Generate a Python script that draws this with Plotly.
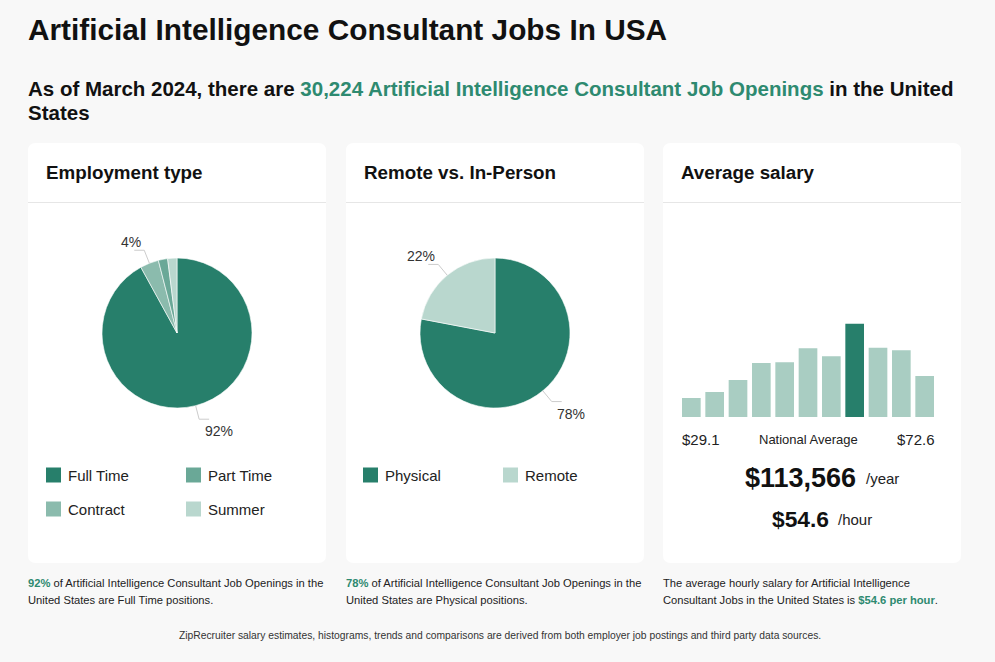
import math
import plotly.graph_objects as go

W, H = 995, 662
FONT = "Liberation Sans, Arial, sans-serif"
GREEN = "#277f6b"
GREEN_TXT = "#2e8a70"
TXT = "#222222"

# ---- data ----
emp_labels = ["Full Time", "Contract", "Part Time", "Summer"]
emp_values = [92, 4, 2, 2]
emp_colors = ["#277f6b", "#8bbbad", "#6aa897", "#b9d7ce"]
emp_legend = ["Full Time", "Part Time", "Contract", "Summer"]
emp_shown = ["Full Time", "Contract"]

rem_labels = ["Physical", "Remote"]
rem_values = [78, 22]
rem_colors = ["#277f6b", "#b9d7ce"]
rem_legend = ["Physical", "Remote"]
rem_shown = ["Physical", "Remote"]

hist_bins = list(range(11))
hist_values = [19, 25, 37, 54, 54.7, 68.7, 60.7, 93.3, 69.3, 66.7, 41]
hist_highlight = 7
salary_min = "$29.1"
salary_max = "$72.6"
salary_year = "$113,566"
salary_hour = "$54.6"


def px(x):
    return x / W


def py(y):
    return 1 - y / H


fig = go.Figure()
shapes = []
annotations = []


def ann(x, y, text, size=12, color=TXT, xanchor="left", yanchor="middle", bold=False, family=FONT):
    if bold:
        text = "<b>" + text + "</b>"
    if xanchor == "left":
        x -= 2.5
    elif xanchor == "right":
        x += 2.5
    annotations.append(dict(x=px(x), y=py(y), xref="paper", yref="paper", text=text,
                            showarrow=False, xanchor=xanchor, yanchor=yanchor,
                            font=dict(size=size, color=color, family=family)))


def rrect(x0, y0, x1, y1, r, fill):
    p = (f"M {px(x0 + r)},{py(y0)} L {px(x1 - r)},{py(y0)} "
         f"Q {px(x1)},{py(y0)} {px(x1)},{py(y0 + r)} L {px(x1)},{py(y1 - r)} "
         f"Q {px(x1)},{py(y1)} {px(x1 - r)},{py(y1)} L {px(x0 + r)},{py(y1)} "
         f"Q {px(x0)},{py(y1)} {px(x0)},{py(y1 - r)} L {px(x0)},{py(y0 + r)} "
         f"Q {px(x0)},{py(y0)} {px(x0 + r)},{py(y0)} Z")
    shapes.append(dict(type="path", path=p, xref="paper", yref="paper",
                       fillcolor=fill, line=dict(width=0), layer="below"))


# ---- cards ----
cards = [(28, 326, "Employment type"), (346, 644, "Remote vs. In-Person"), (663, 961, "Average salary")]
for x0, x1, title in cards:
    rrect(x0, 143, x1, 563, 8, "white")
    shapes.append(dict(type="line", xref="paper", yref="paper", x0=px(x0), x1=px(x1),
                       y0=py(202.5), y1=py(202.5), line=dict(color="#e6e6e6", width=1), layer="below"))
    ann(x0 + 18, 172, title, size=18.8, color="#111111", bold=True)

# ---- titles ----
ann(28, 30, "Artificial Intelligence Consultant Jobs In USA", size=29.8, color="#111111", bold=True)
ann(28, 88, "As of March 2024, there are <span style='color:%s'>30,224 Artificial Intelligence Consultant Job Openings</span> in the United" % GREEN_TXT,
    size=20.5, color="#111111", bold=True)
ann(28, 112, "States", size=20.5, color="#111111", bold=True)

# ---- pies ----
R = 75
CY = 333


def add_pie(cx, labels, values, colors, shown):
    fig.add_trace(go.Pie(labels=labels, values=values, sort=False, direction="clockwise",
                         marker=dict(colors=colors, line=dict(color="white", width=0.6)),
                         textinfo="none", hoverinfo="label+percent", showlegend=False,
                         domain=dict(x=[px(cx - R), px(cx + R)], y=[py(CY + R), py(CY - R)])))
    total = sum(values)
    cum = 0
    for lab, v in zip(labels, values):
        mid = (cum + v / 2) / total * 2 * math.pi
        cum += v
        if lab not in shown:
            continue
        s, c = math.sin(mid), math.cos(mid)
        ex, ey = cx + R * s, CY - R * c
        bx, by = cx + (R + 14) * s, CY - (R + 14) * c
        sign = 1 if s > 0 else -1
        tx = bx + sign * 10
        shapes.append(dict(type="path", xref="paper", yref="paper",
                           path=f"M {px(ex)},{py(ey)} L {px(bx)},{py(by)} L {px(tx)},{py(by)}",
                           line=dict(color="#cccccc", width=1)))
        pct = f"{round(v / total * 100)}%"
        if sign < 0:
            lx, xa = tx + 6, "right"
        else:
            lx, xa = tx - 4, "left"
        if c > 0:
            ann(lx, by + 2, pct, size=14, color="#333333", xanchor=xa, yanchor="bottom")
        else:
            ann(lx, by + 2, pct, size=14, color="#333333", xanchor=xa, yanchor="top")


add_pie(177, emp_labels, emp_values, emp_colors, emp_shown)
add_pie(495, rem_labels, rem_values, rem_colors, rem_shown)


# ---- legends ----
def add_legend(x0, names, labels, colors):
    cmap = dict(zip(labels, colors))
    for i, n in enumerate(names):
        col, row = i % 2, i // 2
        lx = x0 + col * 140
        ly = 475 + row * 34
        shapes.append(dict(type="rect", xref="paper", yref="paper", x0=px(lx), x1=px(lx + 15),
                           y0=py(ly + 7.5), y1=py(ly - 7.5), fillcolor=cmap[n], line=dict(width=0)))
        ann(lx + 22, ly, n, size=15, color="#222222")


add_legend(46, emp_legend, emp_labels, emp_colors)
add_legend(363, rem_legend, rem_labels, rem_colors)

# ---- histogram ----
bar_colors = [GREEN if i == hist_highlight else "#a9cdc2" for i in hist_bins]
fig.add_trace(go.Bar(x=hist_bins, y=hist_values, marker=dict(color=bar_colors, line=dict(width=0)),
                     showlegend=False, hoverinfo="skip", xaxis="x", yaxis="y"))

ann(682, 439, salary_min, size=15, color="#222222")
ann(934, 439, salary_max, size=15, color="#222222", xanchor="right")
ann(808, 439, "National Average", size=13, color="#222222", xanchor="center")
ann(855, 478, salary_year, size=27, color="#111111", xanchor="right", bold=True)
ann(866, 478, "/year", size=15, color="#222222")
ann(828, 519, salary_hour, size=22.8, color="#111111", xanchor="right", bold=True)
ann(838, 519, "/hour", size=15, color="#222222")

# ---- footnotes ----
FN = 11.2
ann(28, 583, "<b><span style='color:%s'>92%%</span></b> of Artificial Intelligence Consultant Job Openings in the" % GREEN_TXT, size=FN)
ann(28, 600, "United States are Full Time positions.", size=FN)
ann(346, 583, "<b><span style='color:%s'>78%%</span></b> of Artificial Intelligence Consultant Job Openings in the" % GREEN_TXT, size=FN)
ann(346, 600, "United States are Physical positions.", size=FN)
ann(663, 583, "The average hourly salary for Artificial Intelligence", size=FN)
ann(663, 600, "Consultant Jobs in the United States is <b><span style='color:%s'>$54.6 per hour</span></b>." % GREEN_TXT, size=FN)
ann(500, 635, "ZipRecruiter salary estimates, histograms, trends and comparisons are derived from both employer job postings and third party data sources.",
    size=10.3, color="#333333", xanchor="center")

# histogram: outer bar edges flush with 682..934, bargap 0.2
pitch = (934 - 682) / 10.8
fig.update_layout(
    width=W, height=H, margin=dict(l=0, r=0, t=0, b=0),
    paper_bgcolor="#f8f8f8", plot_bgcolor="rgba(0,0,0,0)",
    font=dict(family=FONT),
    bargap=0.2,
    xaxis=dict(domain=[px(682 - 0.1 * pitch), px(934 + 0.1 * pitch)], range=[-0.5, 10.5],
               visible=False, fixedrange=True),
    yaxis=dict(domain=[py(417), py(317)], range=[0, 100], visible=False, fixedrange=True),
    shapes=shapes, annotations=annotations, showlegend=False,
)

fig.write_html("out.html", config=dict(displayModeBar=False),
               post_script="document.body.style.margin='0';document.body.style.overflow='hidden';")
